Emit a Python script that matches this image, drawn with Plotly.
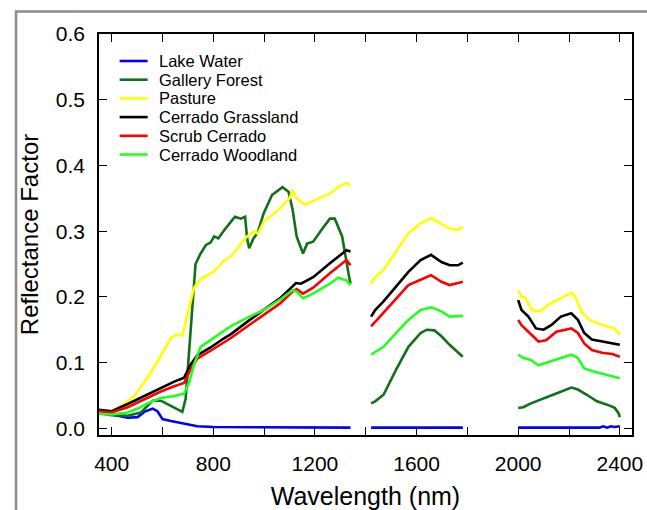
import plotly.graph_objects as go

# ---------------- data ----------------
names = ["Lake Water", "Gallery Forest", "Pasture", "Cerrado Grassland",
         "Scrub Cerrado", "Cerrado Woodland"]
colors = ["#0000ff", "#12701a", "#ffff00", "#000000", "#ff0000", "#22ff22"]

# Lake Water
lake_wl = [350, 400, 463, 502, 528, 561, 580, 600, 633, 672, 711, 737, 800, 860, 880, 1340, None,
           1421, 1782, None,
           2000, 2320, 2335, 2350, 2365, 2380, 2400]
lake_r = [0.024, 0.021, 0.016, 0.017, 0.025, 0.030, 0.026, 0.014, 0.011, 0.008, 0.006, 0.003, 0.002, 0.002, 0.001, 0.001, None,
          0.001, 0.001, None,
          0.001, 0.001, 0.003, 0.001, 0.003, 0.002, 0.003]

# Gallery Forest
gal_wl = [350, 400, 463, 515, 561, 593, 633, 678, 691, 705, 718, 730, 750, 771, 790, 803, 820, 844, 885,
          909, 925, 933, 941, 958, 974, 998, 1031, 1072, 1096, 1112, 1128, 1153, 1169, 1193, 1226,
          1259, 1278, 1307, 1332, 1340, None,
          1421, 1437, 1470, 1519, 1568, 1616, 1640, 1670, 1698, 1730, 1782, None,
          2000, 2020, 2050, 2100, 2150, 2209, 2235, 2270, 2310, 2350, 2380, 2395, 2400]
gal_r = [0.023, 0.020, 0.019, 0.024, 0.042, 0.042, 0.034, 0.025, 0.045, 0.12, 0.20, 0.25, 0.266, 0.279, 0.283, 0.292, 0.289, 0.302, 0.322,
         0.319, 0.322, 0.289, 0.274, 0.289, 0.297, 0.327, 0.355, 0.367, 0.360, 0.333, 0.292, 0.266, 0.281, 0.284, 0.302,
         0.319, 0.319, 0.292, 0.236, 0.220, None,
         0.038, 0.041, 0.051, 0.089, 0.124, 0.145, 0.150, 0.149, 0.140, 0.127, 0.109, None,
         0.031, 0.032, 0.038, 0.046, 0.053, 0.062, 0.059, 0.051, 0.041, 0.036, 0.031, 0.023, 0.017]

# Pasture
pas_wl = [350, 400, 437, 489, 541, 593, 633, 659, 678, 698, 724, 750, 800, 842, 868, 933, 960, 975, 998,
          1063, 1100, 1112, 1128, 1161, 1210, 1259, 1291, 1324, 1340, None,
          1421, 1437, 1470, 1519, 1568, 1616, 1657, 1698, 1730, 1763, 1782, None,
          2000, 2013, 2029, 2054, 2086, 2119, 2168, 2209, 2225, 2249, 2281, 2330, 2379, 2400]
pas_r = [0.024, 0.025, 0.034, 0.049, 0.077, 0.110, 0.138, 0.143, 0.141, 0.171, 0.214, 0.227, 0.238, 0.255, 0.261, 0.292, 0.300, 0.296, 0.314,
         0.335, 0.350, 0.362, 0.350, 0.340, 0.348, 0.357, 0.367, 0.373, 0.370, None,
         0.220, 0.230, 0.241, 0.269, 0.297, 0.312, 0.320, 0.311, 0.304, 0.302, 0.307, None,
         0.210, 0.200, 0.198, 0.180, 0.178, 0.188, 0.198, 0.206, 0.200, 0.178, 0.165, 0.157, 0.152, 0.142]

# Cerrado Grassland
gra_wl = [350, 400, 463, 528, 593, 646, 685, 711, 737, 789, 842, 868, 933, 998, 1063, 1112, 1125, 1145,
          1193, 1259, 1324, 1340, None,
          1421, 1437, 1470, 1519, 1568, 1616, 1657, 1698, 1730, 1763, 1782, None,
          2000, 2013, 2040, 2070, 2100, 2130, 2168, 2209, 2235, 2260, 2290, 2330, 2360, 2400]
gra_r = [0.028, 0.026, 0.037, 0.049, 0.062, 0.071, 0.077, 0.097, 0.111, 0.123, 0.137, 0.143, 0.162, 0.180, 0.198, 0.216, 0.221, 0.220,
         0.230, 0.251, 0.271, 0.269, None,
         0.170, 0.180, 0.193, 0.216, 0.238, 0.256, 0.264, 0.253, 0.248, 0.248, 0.252, None,
         0.195, 0.180, 0.170, 0.152, 0.150, 0.157, 0.170, 0.175, 0.165, 0.145, 0.135, 0.132, 0.129, 0.127]

# Scrub Cerrado
scr_wl = [350, 400, 463, 528, 593, 646, 685, 711, 737, 789, 842, 868, 933, 998, 1063, 1112, 1128, 1153,
          1193, 1259, 1324, 1340, None,
          1421, 1437, 1470, 1519, 1568, 1616, 1657, 1698, 1730, 1763, 1782, None,
          2000, 2013, 2040, 2080, 2110, 2150, 2209, 2235, 2260, 2290, 2330, 2370, 2400]
scr_r = [0.026, 0.024, 0.032, 0.044, 0.056, 0.064, 0.069, 0.090, 0.106, 0.118, 0.131, 0.137, 0.155, 0.172, 0.190, 0.208, 0.212, 0.205,
         0.214, 0.236, 0.256, 0.248, None,
         0.155, 0.162, 0.175, 0.198, 0.218, 0.226, 0.233, 0.223, 0.218, 0.221, 0.223, None,
         0.165, 0.157, 0.147, 0.132, 0.134, 0.147, 0.152, 0.145, 0.129, 0.119, 0.115, 0.113, 0.109]

# Cerrado Woodland
woo_wl = [350, 400, 463, 502, 541, 593, 646, 685, 705, 724, 750, 803, 842, 868, 933, 998, 1063, 1112, 1128,
          1153, 1193, 1259, 1291, 1324, 1340, None,
          1421, 1470, 1519, 1568, 1616, 1657, 1698, 1730, 1782, None,
          2000, 2020, 2050, 2080, 2120, 2170, 2209, 2235, 2260, 2300, 2350, 2400]
woo_r = [0.022, 0.021, 0.024, 0.030, 0.038, 0.046, 0.049, 0.053, 0.070, 0.097, 0.124, 0.138, 0.148, 0.155, 0.168, 0.180, 0.196, 0.210, 0.208,
         0.198, 0.205, 0.220, 0.229, 0.225, 0.218, None,
         0.112, 0.124, 0.145, 0.165, 0.180, 0.184, 0.178, 0.170, 0.171, None,
         0.112, 0.107, 0.104, 0.096, 0.101, 0.107, 0.112, 0.107, 0.091, 0.086, 0.081, 0.076]

series_wl = [lake_wl, gal_wl, pas_wl, gra_wl, scr_wl, woo_wl]
series_r = [lake_r, gal_r, pas_r, gra_r, scr_r, woo_r]

x_tickvals = [400, 600, 800, 1000, 1200, 1400, 1600, 1800, 2000, 2200, 2400]
x_ticktext = ["400", "", "800", "", "1200", "", "1600", "", "2000", "", "2400"]
y_tickvals = [0.0, 0.1, 0.2, 0.3, 0.4, 0.5, 0.6]
y_ticktext = ["0.0", "0.1", "0.2", "0.3", "0.4", "0.5", "0.6"]

FONT = "Liberation Sans, Arial, sans-serif"

fig = go.Figure()
for n, c, xs, ys in zip(names, colors, series_wl, series_r):
    fig.add_trace(go.Scatter(x=xs, y=ys, mode="lines", name=n,
                             line=dict(color=c, width=2.6), connectgaps=False,
                             showlegend=False))

# manual legend (compact row spacing as in the reference)
L, R, T, B = 99.4, 632.0, 34.0, 435.0
W, H = R - L, B - T
for i, (n, c) in enumerate(zip(names, colors)):
    yc = 61 + 18.7 * i
    yp = (B - yc) / H
    fig.add_shape(type="line", xref="paper", yref="paper",
                  x0=(120 - L) / W, x1=(148 - L) / W, y0=yp, y1=yp,
                  line=dict(color=c, width=2.6))
    fig.add_annotation(xref="paper", yref="paper", x=(157 - L) / W, y=yp,
                       text=n, showarrow=False, xanchor="left", yanchor="middle",
                       font=dict(family=FONT, size=16.5, color="black"))

# outer grey frame (partially visible, as in the reference)
fig.add_shape(type="rect", xref="paper", yref="paper",
              x0=(16.5 - L) / W, x1=(700 - L) / W,
              y0=(B - 560) / H, y1=(B - 11.5) / H,
              line=dict(color="#8c8c8c", width=2.5), layer="below")

axis_common = dict(showline=True, linecolor="black", linewidth=1.5, mirror="ticks",
                   ticks="inside", ticklen=8, tickwidth=1.3, tickcolor="black",
                   showgrid=False, zeroline=False, automargin=False,
                   tickfont=dict(family=FONT, size=21, color="black"))

fig.update_layout(
    width=647, height=510,
    margin=dict(l=L, r=647 - R, t=T, b=510 - B),
    paper_bgcolor="white", plot_bgcolor="white",
    xaxis=dict(range=[350, 2448], tickvals=x_tickvals, ticktext=x_ticktext,
               ticklabelstandoff=9,
               title=dict(text="Wavelength (nm)", font=dict(family=FONT, size=25, color="black"),
                          standoff=17),
               **axis_common),
    yaxis=dict(range=[-0.0102, 0.6], tickvals=y_tickvals, ticktext=y_ticktext,
               ticklabelstandoff=8,
               title=dict(text="Reflectance Factor", font=dict(family=FONT, size=24, color="black"),
                          standoff=10),
               **axis_common),
    showlegend=False,
)

fig.write_html("out.html")
